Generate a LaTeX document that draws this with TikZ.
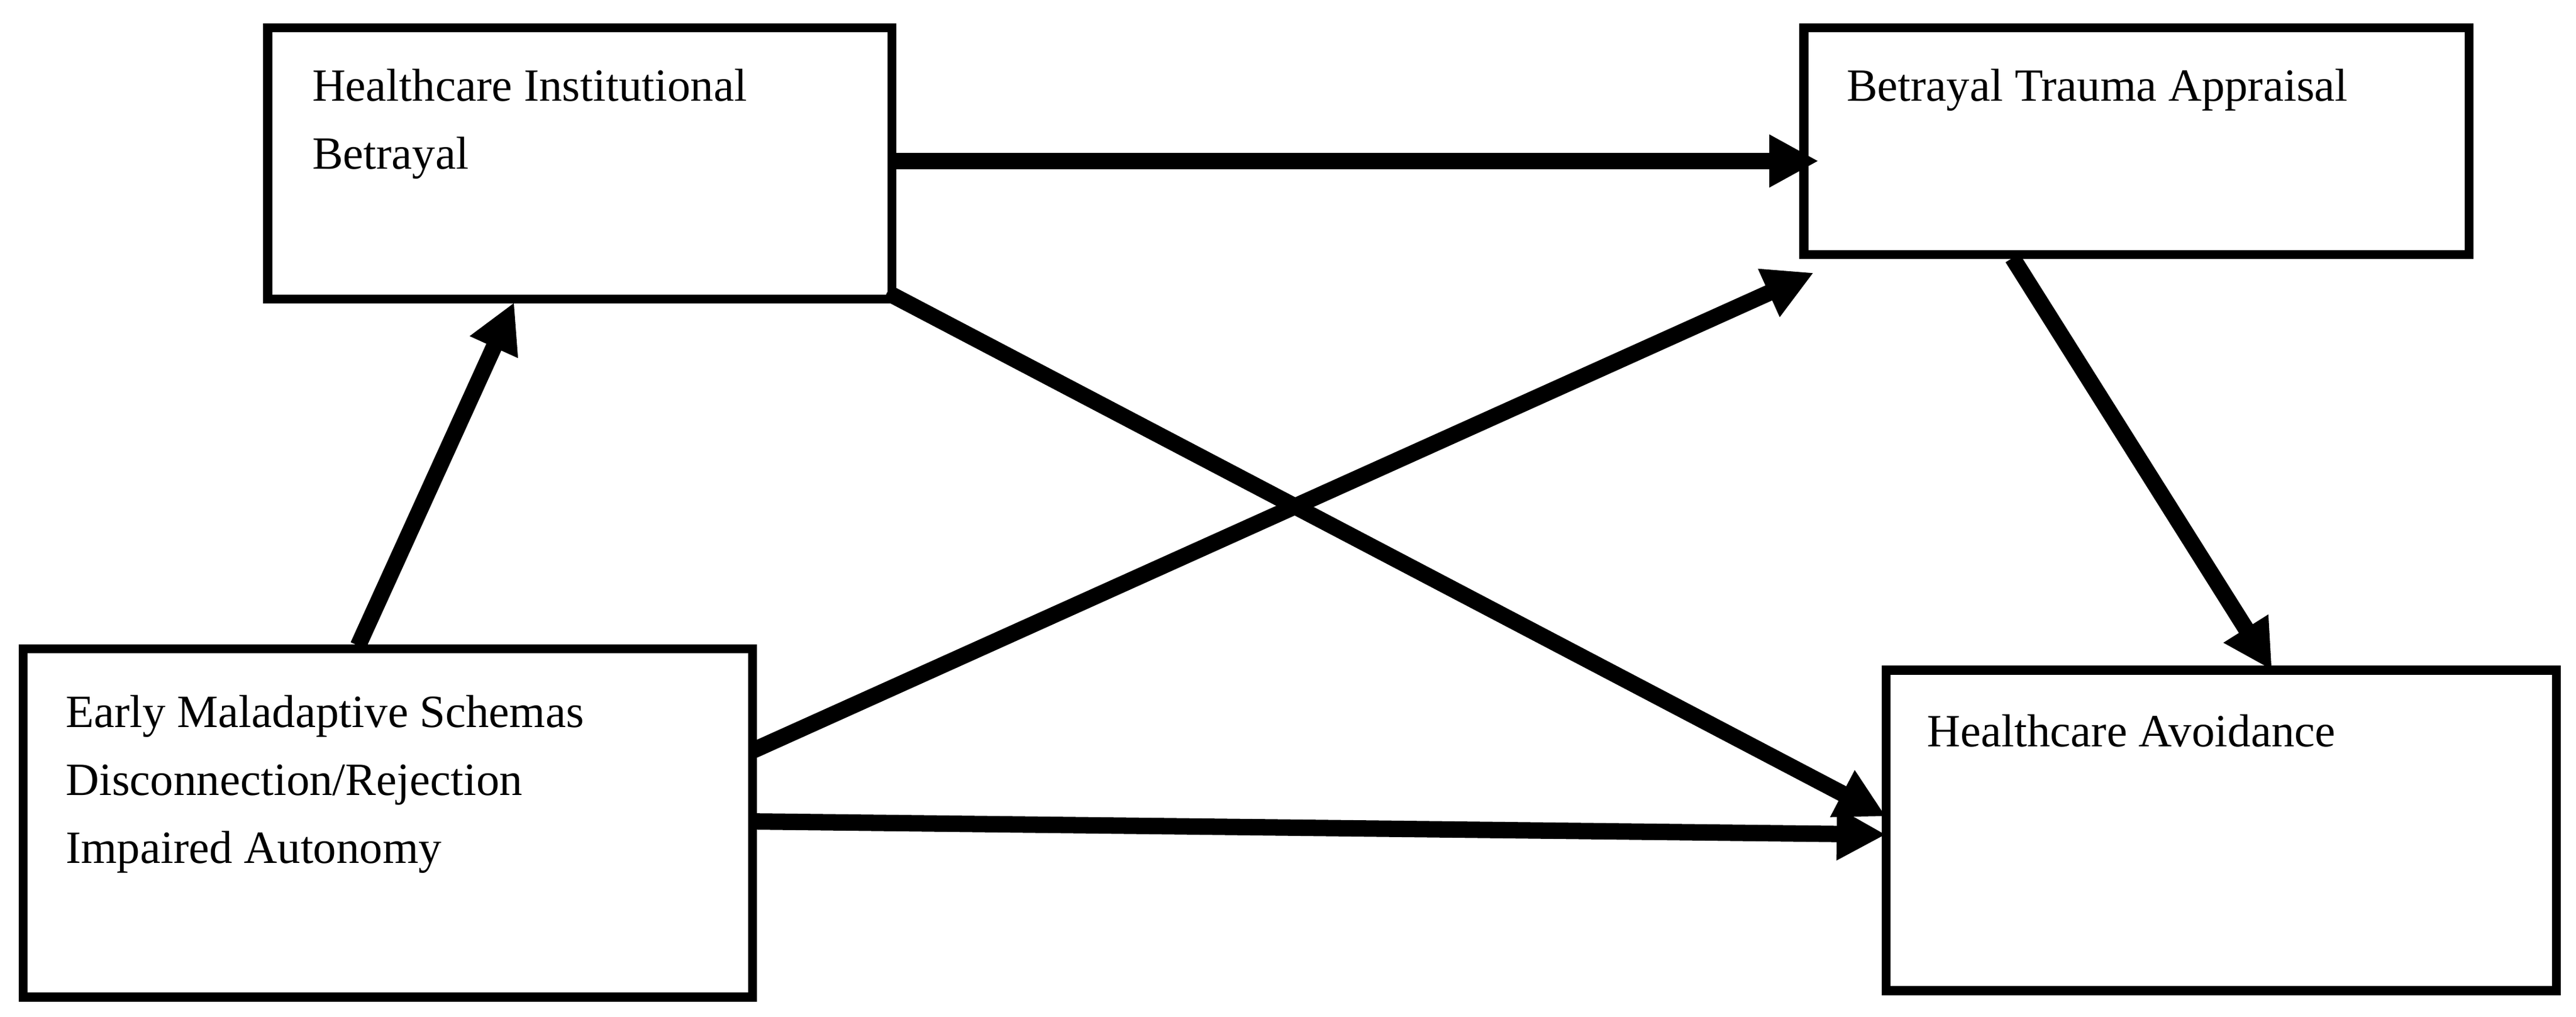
\documentclass[tikz,border=0pt]{standalone}
\usepackage{fontspec}
\setmainfont{Liberation Serif}
\usetikzlibrary{arrows.meta}
\begin{document}
\begin{tikzpicture}[x=1mm,y=-1mm,
 box/.style={draw,line width=5.5mm,inner sep=0,outer sep=0},
 lab/.style={anchor=north west,align=left,font=\fontsize{80}{118}\selectfont,inner sep=0},
 arr/.style={line width=10mm,-{Triangle[length=30mm,width=30mm]}}]
\useasboundingbox (0,0) rectangle (1568,619);
\draw[box] (163,17) rectangle (543,182);
\draw[box] (1098,17) rectangle (1503,155);
\draw[box] (14,395) rectangle (458,607);
\draw[box] (1148,408) rectangle (1556,603);
\node[lab] (hib) at (190,42) {Healthcare Institutional\\Betrayal};
\node[lab] (bta) at (1124,42) {Betrayal Trauma Appraisal};
\node[lab] (ems) at (40,423) {Early Maladaptive Schemas\\Disconnection/Rejection\\Impaired Autonomy};
\node[lab] (ha) at (1173,435) {Healthcare Avoidance};
\coordinate (a1) at (543,98); \coordinate (a2) at (1107,98);
\coordinate (b1) at (218,393); \coordinate (b2) at (313,184);
\coordinate (c1) at (458,457); \coordinate (c2) at (1104,166);
\coordinate (d1) at (540,178); \coordinate (d2) at (1148,497);
\coordinate (e1) at (458,500); \coordinate (e2) at (1148,508);
\coordinate (f1) at (1225,157); \coordinate (f2) at (1383,408);
\foreach \s/\t in {a1/a2,b1/b2,c1/c2,d1/d2,e1/e2,f1/f2} \draw[arr] (\s) -- (\t);
\end{tikzpicture}
\end{document}
